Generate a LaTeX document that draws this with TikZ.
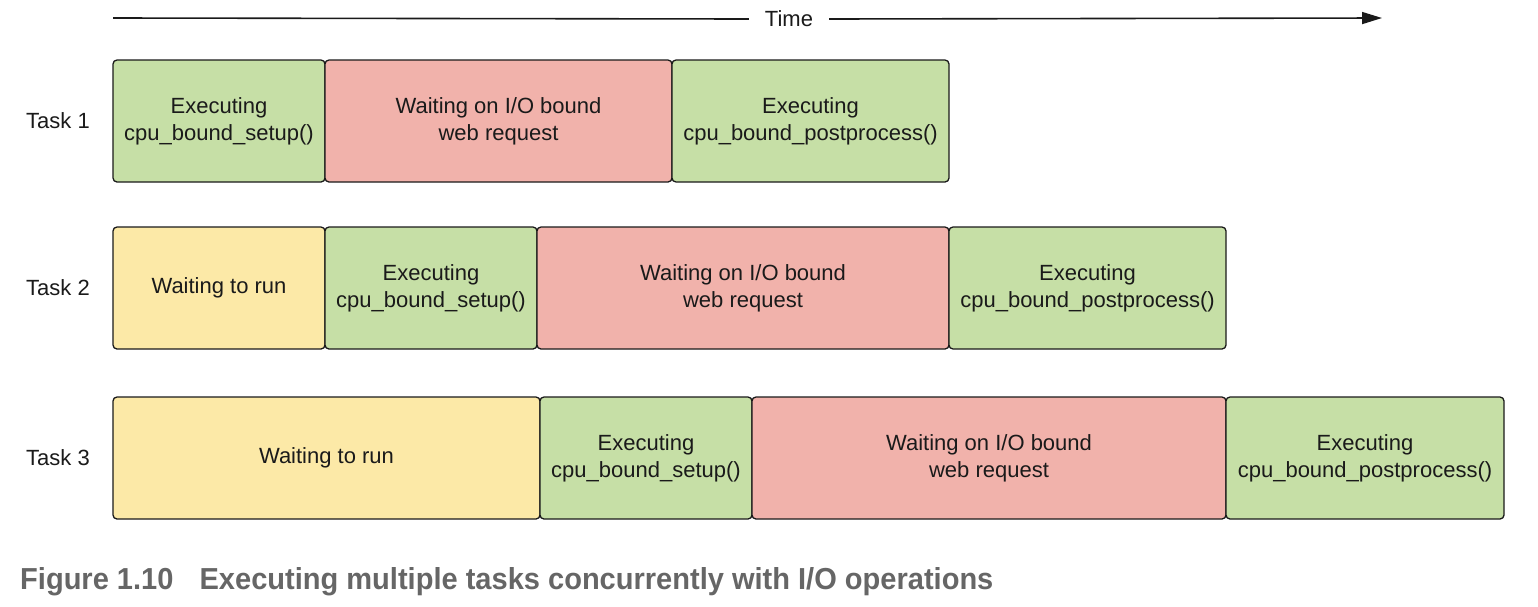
\documentclass[tikz,border=0pt]{standalone}
\usepackage{fontspec}
\setmainfont{Liberation Sans}
\usetikzlibrary{arrows.meta}
\definecolor{exgreen}{HTML}{C6DFA6}
\definecolor{iored}{HTML}{F1B2AB}
\definecolor{waityel}{HTML}{FCE9A7}
\definecolor{capgray}{HTML}{666666}
\definecolor{ink}{HTML}{1A1A1A}
\tikzset{
  blk/.style={draw=ink, line width=1.3pt, rounded corners=4pt, inner sep=0pt, outer sep=0pt,
    minimum height=122pt, align=center, font=\fontsize{22}{27}\selectfont, text=ink},
  cpu/.style={blk, fill=exgreen},
  io/.style={blk, fill=iored},
  wait/.style={blk, fill=waityel},
  tasklbl/.style={anchor=west, inner sep=0pt, font=\fontsize{22}{27}\selectfont, text=ink},
}
\newcommand{\blkbox}[6]{% name, style, x1, x2, ymid, text
  \node[#2, minimum width={#4-#3}] (#1) at ({(#3+#4)/2},#5) {#6};}
\begin{document}
\begin{tikzpicture}[x=1pt,y=-1pt]
\useasboundingbox (0,0) rectangle (1538,606);
% time axis
\coordinate (tstart) at (113,18);
\coordinate (tend) at (1382,18);
\node[font=\fontsize{22}{27}\selectfont, text=ink, inner sep=0pt] (time) at (789,19) {Time};
\draw[ink, line width=1.6pt] (tstart) -- ([xshift=-16pt]time.west);
\draw[ink, line width=1.6pt, -{Triangle[length=20pt,width=12pt]}] ([xshift=16pt]time.east) -- (tend);
% task labels
\node[tasklbl] (l1) at (26,121) {Task 1};
\node[tasklbl] (l2) at (26,288) {Task 2};
\node[tasklbl] (l3) at (26,458) {Task 3};
% row 1
\blkbox{a1}{cpu}{113}{325}{121}{Executing\\cpu\_bound\_setup()}
\blkbox{a2}{io}{325}{672}{121}{Waiting on I/O bound\\web request}
\blkbox{a3}{cpu}{672}{949}{121}{Executing\\cpu\_bound\_postprocess()}
% row 2
\blkbox{b1}{wait}{113}{325}{288}{Waiting to run}
\blkbox{b2}{cpu}{325}{537}{288}{Executing\\cpu\_bound\_setup()}
\blkbox{b3}{io}{537}{949}{288}{Waiting on I/O bound\\web request}
\blkbox{b4}{cpu}{949}{1226}{288}{Executing\\cpu\_bound\_postprocess()}
% row 3
\blkbox{c1}{wait}{113}{540}{458}{Waiting to run}
\blkbox{c2}{cpu}{540}{752}{458}{Executing\\cpu\_bound\_setup()}
\blkbox{c3}{io}{752}{1226}{458}{Waiting on I/O bound\\web request}
\blkbox{c4}{cpu}{1226}{1504}{458}{Executing\\cpu\_bound\_postprocess()}
% caption
\node[anchor=base west, inner sep=0pt, text=capgray] (cap) at (20,589)
  {\resizebox{973pt}{22pt}{\bfseries Figure 1.10\hspace{0.9em}Executing multiple tasks concurrently with I/O operations}};
\end{tikzpicture}
\end{document}
